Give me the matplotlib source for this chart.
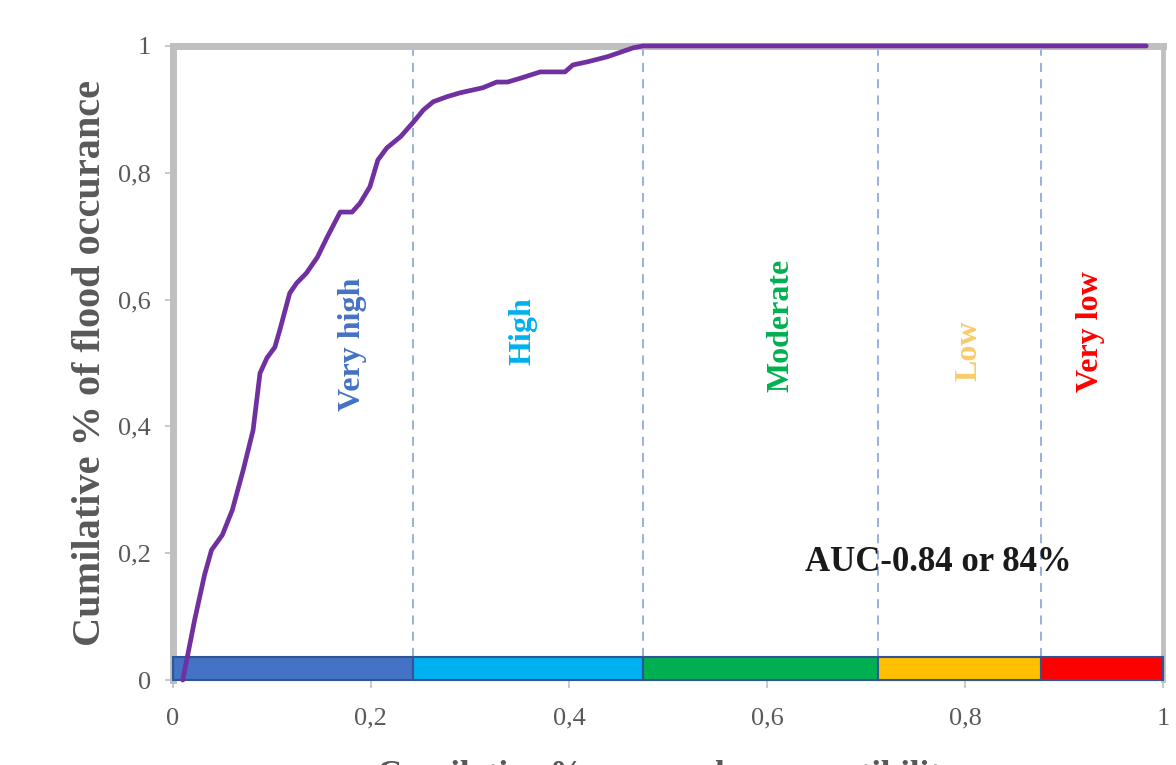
import numpy as np
import matplotlib
matplotlib.use("Agg")
import matplotlib.pyplot as plt

plt.rcParams['font.family'] = ['Liberation Serif', 'DejaVu Serif']

# curve
cum_area = [0.010, 0.022, 0.032, 0.039, 0.050, 0.060, 0.071, 0.081, 0.088, 0.095,
            0.103, 0.108, 0.118, 0.125, 0.135, 0.146, 0.156, 0.169, 0.181, 0.189,
            0.199, 0.207, 0.216, 0.230, 0.243, 0.253, 0.263, 0.277, 0.290, 0.313,
            0.327, 0.338, 0.351, 0.371, 0.391, 0.396, 0.404, 0.419, 0.439, 0.465,
            0.475, 0.983]
cum_flood = [0.0, 0.095, 0.166, 0.205, 0.229, 0.268, 0.331, 0.394, 0.484, 0.508,
             0.525, 0.552, 0.610, 0.626, 0.642, 0.667, 0.699, 0.738, 0.738, 0.752,
             0.778, 0.820, 0.839, 0.857, 0.880, 0.899, 0.912, 0.920, 0.926, 0.934,
             0.943, 0.943, 0.949, 0.959, 0.959, 0.959, 0.970, 0.975, 0.983, 0.997,
             1.0, 1.0]

classes = ['Very high', 'High', 'Moderate', 'Low', 'Very low']
class_edges = [0.0, 0.243, 0.475, 0.712, 0.877, 1.0]
class_colors = ['#4472c4', '#00b0f0', '#00b050', '#ffc000', '#ff0000']
label_colors = ['#4472c4', '#00b0f0', '#00b050', '#f9cb6a', '#ff0000']
label_pos = [(0.181, 0.53), (0.354, 0.55), (0.614, 0.56), (0.804, 0.52), (0.927, 0.55)]

xticks = [0, 0.2, 0.4, 0.6, 0.8, 1]
tick_labels = ['0', '0,2', '0,4', '0,6', '0,8', '1']

fig = plt.figure(figsize=(11.76, 7.65), dpi=100)
ax = fig.add_axes([0.147, 0.111, 0.842, 0.829])

# class bar along the bottom
lefts = class_edges[:-1]
widths = np.diff(class_edges)
ax.bar(lefts, 0.037, width=widths, align='edge', color=class_colors,
       edgecolor='#2f5597', linewidth=1.5, zorder=3, clip_on=False)

# class boundaries
for xb in class_edges[1:-1]:
    ax.plot([xb, xb], [0.037, 1.0], color='#8faadc', linewidth=1.3,
            dashes=(5, 4), zorder=2)

ax.plot(cum_area, cum_flood, color='#7030a0', linewidth=3.4, zorder=4,
        clip_on=False, solid_capstyle='round')

for name, col, (lx, ly) in zip(classes, label_colors, label_pos):
    ax.text(lx, ly, name, rotation=90, ha='center', va='center',
            fontsize=23, fontweight='bold', color=col)

ax.text(0.638, 0.185, 'AUC-0.84 or 84%', fontsize=25, fontweight='bold',
        color='#1a1a1a', ha='left', va='center', zorder=5)

ax.set_xlim(0, 1)
ax.set_ylim(0, 1)
ax.set_xticks(xticks)
ax.set_xticklabels(tick_labels)
ax.set_yticks(xticks)
ax.set_yticklabels(tick_labels)
ax.tick_params(axis='both', labelsize=19, labelcolor='#595959', color='#bfbfbf',
               length=6, width=1.2, direction='out')
ax.tick_params(axis='x', pad=14)
ax.tick_params(axis='y', pad=10)

for side, lw in [('left', 5), ('top', 5), ('right', 3.5), ('bottom', 1.2)]:
    ax.spines[side].set_color('#bfbfbf')
    ax.spines[side].set_linewidth(lw)

ax.set_ylabel('Cumilative % of flood occurance', fontsize=29, fontweight='bold',
              color='#595959', labelpad=6)
fig.text(0.568, 0.006, 'Cumilative % area under susceptibility', fontsize=25,
         fontweight='bold', color='#595959', ha='center', va='top')

fig.savefig('out.png', dpi=100)
